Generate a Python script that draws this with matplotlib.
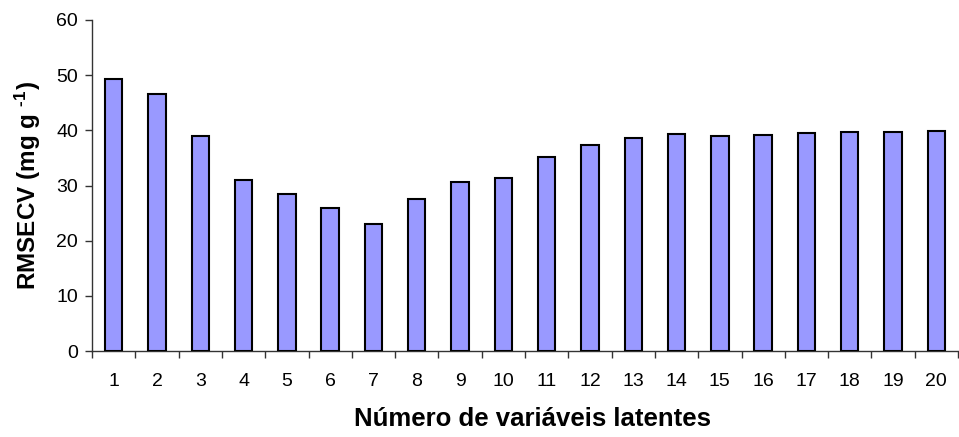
import matplotlib
matplotlib.use("Agg")
import matplotlib.pyplot as plt
import numpy as np

plt.rcParams['font.family'] = ['Liberation Sans', 'DejaVu Sans']
plt.rcParams['mathtext.fontset'] = 'custom'
plt.rcParams['mathtext.rm'] = 'Liberation Sans'
plt.rcParams['mathtext.bf'] = 'Liberation Sans:bold'

# Number of latent variables and cross-validation error
n_latent = list(range(1, 21))
rmsecv = [49.3, 46.6, 39.0, 31.0, 28.4, 25.9, 23.1, 27.6, 30.6, 31.4,
          35.1, 37.3, 38.6, 39.3, 39.0, 39.2, 39.6, 39.7, 39.7, 39.9]
y_ticks = [0, 10, 20, 30, 40, 50, 60]

W, H = 959, 437
fig = plt.figure(figsize=(W / 100, H / 100), dpi=100)
ax = fig.add_axes([92 / W, 1 - 351 / H, (958 - 92) / W, (351 - 20) / H])

ax.bar(n_latent, rmsecv, width=0.4, color='#9999FF', edgecolor='black',
       linewidth=1.5, zorder=3)

ax.set_xlim(0.5, 20.5)
ax.set_ylim(0, 60)
ax.set_yticks(y_ticks)
ax.set_yticklabels([str(v) for v in y_ticks])

# Category labels under bars, tick marks between categories
ax.set_xticks(n_latent)
ax.set_xticklabels([str(v) for v in n_latent])
ax.set_xticks(np.arange(0.5, 21, 1.0), minor=True)
ax.tick_params(axis='x', which='major', length=0, pad=16, labelsize=14)
ax.tick_params(axis='x', which='minor', length=5, width=1, color='#333333',
               direction='out')
ax.tick_params(axis='y', length=5, width=1, color='#333333', pad=5,
               labelsize=14)

for side in ('top', 'right'):
    ax.spines[side].set_visible(False)
for side in ('left', 'bottom'):
    ax.spines[side].set_color('#333333')
    ax.spines[side].set_linewidth(1)

fig.text(532.8 / W, 1 - 426 / H, 'Número de variáveis latentes',
         ha='center', va='baseline', fontsize=18.5, fontweight='bold')
fig.text(28 / W, 1 - 186 / H, 'RMSECV (mg g $\\mathbf{^{\u2010}{}^{1}}$)',
         ha='center', va='center', rotation=90, fontsize=17.5,
         fontweight='bold')

fig.savefig('out.png', dpi=100)
